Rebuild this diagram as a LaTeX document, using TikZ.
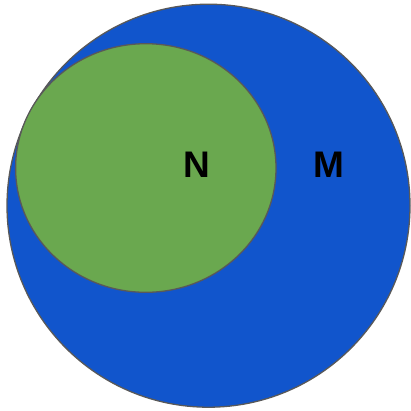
\documentclass[tikz,border=0pt]{standalone}
\usepackage{fontspec}
\setmainfont{Liberation Sans}
\usetikzlibrary{shapes.geometric}

\definecolor{mblau}{HTML}{1155CC}
\definecolor{ngruen}{HTML}{6AA84F}
\definecolor{rand}{HTML}{595959}

\begin{document}
\begin{tikzpicture}[
        x=1pt, y=-1pt,
        menge/.style={draw=rand, line width=1.3pt, inner sep=0pt, outer sep=0pt},
        obermenge/.style={menge, circle, fill=mblau, minimum size=403pt},
        teilmenge/.style={menge, ellipse, fill=ngruen,
                          minimum width=260.4pt, minimum height=248.6pt},
        marke/.style={font=\fontsize{37}{37}\selectfont\bfseries, inner sep=0pt}
    ]
        \useasboundingbox (0,0) rectangle (411,410);
        \node[obermenge] (M) at (208.5,205.7) {};
        \node[teilmenge] (N) at (145.8,168) {};

        \node[marke] (lblN) at (197,165) {N};
        \node[marke] (lblM) at (328.7,165) {M};
    \end{tikzpicture}
\end{document}
